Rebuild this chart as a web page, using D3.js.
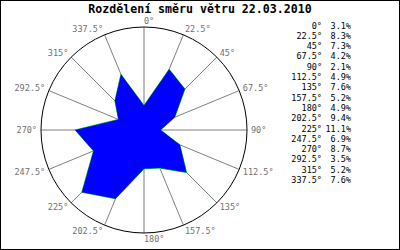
<!DOCTYPE html>
<html>
<head>
<meta charset="utf-8">
<script src="https://cdn.jsdelivr.net/npm/d3@7"></script>
<style>
  html, body { margin: 0; padding: 0; background: #fff; }
  svg { display: block; }
</style>
</head>
<body>
<div id="chart"></div>
<script>
// wind direction data (degrees clockwise from north, share in %)
const title = "Rozdělení směru větru 22.03.2010"
const directions = [0, 22.5, 45, 67.5, 90, 112.5, 135, 157.5, 180, 202.5, 225, 247.5, 270, 292.5, 315, 337.5]
const shares = [3.1, 8.3, 7.3, 4.2, 2.1, 4.9, 7.6, 5.2, 4.9, 9.4, 11.1, 6.9, 8.7, 3.5, 5.2, 7.6]
const maxShare = 13

const w = 400
const h = 250
const cx = 144
const cy = 130
const radius = 103
const mono = "'DejaVu Sans Mono', 'Liberation Mono', monospace"
const grey = "#707070"

const svg = d3.select("#chart").append("svg")
  .attr("width", w)
  .attr("height", h)

// frame
svg.append("rect")
  .attr("x", 0.5).attr("y", 0.5)
  .attr("width", w - 1).attr("height", h - 1)
  .attr("fill", "#fff")
  .attr("stroke", "#000")

svg.append("text")
  .attr("x", 200)
  .attr("y", 9)
  .attr("text-anchor", "middle")
  .attr("dominant-baseline", "central")
  .style("font-family", mono)
  .style("font-weight", "bold")
  .style("font-size", "11.6px")
  .text(title)

const r = d3.scaleLinear().domain([0, maxShare]).range([0, radius])
const rad = d => d * Math.PI / 180

const g = svg.append("g").attr("transform", `translate(${cx},${cy})`)

// spokes
g.selectAll(".spoke")
  .data(directions)
  .join("line")
  .attr("class", "spoke")
  .attr("x1", 0).attr("y1", 0)
  .attr("x2", d => radius * Math.sin(rad(d)))
  .attr("y2", d => -radius * Math.cos(rad(d)))
  .attr("stroke", grey)
  .attr("stroke-width", 0.9)

// outer circle
g.append("circle")
  .attr("r", r(maxShare))
  .attr("fill", "none")
  .attr("stroke", "#000")
  .attr("stroke-width", 1)

// rose polygon
const rose = d3.lineRadial()
  .angle((d, i) => rad(directions[i]))
  .radius(d => r(d))
  .curve(d3.curveLinearClosed)

g.append("path")
  .attr("d", rose(shares))
  .attr("fill", "none")
  .attr("stroke", "#00dd00")
  .attr("stroke-width", 1)

g.append("path")
  .attr("d", rose(shares))
  .attr("fill", "#0000ff")

// angle labels around the circle
g.selectAll(".angle")
  .data(directions)
  .join("text")
  .attr("class", "angle")
  .attr("x", d => {
    let s = Math.sin(rad(d))
    return radius * s + 4 * s
  })
  .attr("y", d => {
    let c = Math.cos(rad(d))
    return -radius * c - 6 * c
  })
  .attr("text-anchor", d => Math.sin(rad(d)) < -0.01 ? "end" : "start")
  .attr("dominant-baseline", "central")
  .attr("fill", grey)
  .style("font-family", mono)
  .style("font-size", "8.5px")
  .text(d => d + "°")

// legend
const legend = svg.append("g").attr("class", "legend")
const rowY = d3.scaleLinear().domain([0, directions.length - 1]).range([25.5, 180])

legend.selectAll(".ang")
  .data(directions)
  .join("text")
  .attr("x", 322)
  .attr("y", (d, i) => rowY(i))
  .attr("text-anchor", "end")
  .attr("dominant-baseline", "central")
  .style("font-family", mono)
  .style("font-size", "8.5px")
  .text(d => d + "°")

legend.selectAll(".pct")
  .data(shares)
  .join("text")
  .attr("x", 351)
  .attr("y", (d, i) => rowY(i))
  .attr("text-anchor", "end")
  .attr("dominant-baseline", "central")
  .style("font-family", mono)
  .style("font-size", "8.5px")
  .text(d => d.toFixed(1) + "%")
</script>
</body>
</html>
